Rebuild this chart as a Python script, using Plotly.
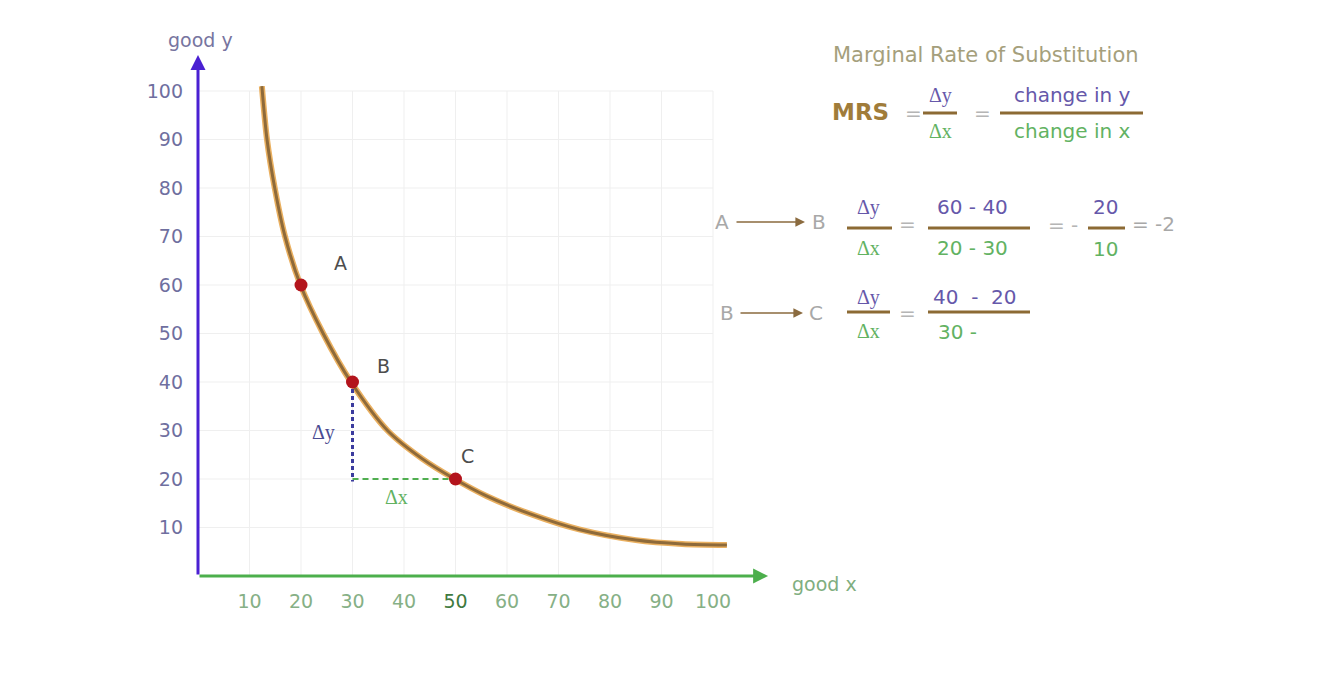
import plotly.graph_objects as go

# ---------------- data ----------------
curve_x = [12.4, 13.4, 14.9, 16.9, 19.9, 24.3, 29.7, 36.8, 43.5, 49.5, 56.0, 64.5, 74.0, 85.0, 94.0, 102.7]
curve_y = [101.0, 90.0, 80.0, 70.0, 60.0, 50.0, 40.0, 30.0, 24.2, 20.2, 16.5, 12.8, 9.6, 7.4, 6.6, 6.4]

point_labels = ["A", "B", "C"]
point_x = [20, 30, 50]
point_y = [60, 40, 20]

tick_vals = [10, 20, 30, 40, 50, 60, 70, 80, 90, 100]
x_tick_text = ["10", "20", "30", "40", "<span style='color:#3f7a3f'>50</span>", "60", "70", "80", "90", "100"]
y_tick_text = ["10", "20", "30", "40", "50", "60", "70", "80", "90", "100"]

delta_x_seg = [30, 50]      # horizontal change B -> C
delta_y_seg = [40, 19.5]    # vertical change B -> C

# ---------------- layout geometry ----------------
W, H = 1332, 698
OFF = 8                        # page body margin
X0S, Y0S = 198, 576            # screen position of the origin
RS, TS = 800, 40               # screen right / top of plot area
ML, MT = X0S - OFF, TS - OFF
MR, MB = W - (RS - OFF), H - (Y0S - OFF)
PW, PH = RS - X0S, Y0S - TS
SX, SY = 5.15, 4.85            # pixels per data unit
XMAX, YMAX = PW / SX, PH / SY

FONT = "DejaVu Sans"
SERIF = "Liberation Serif"
PURPLE = "#6658aa"
GREEN = "#62b262"
GRAY = "#a8a8a8"
BAR = "#8c6a34"


def px(xs):
    return (xs - X0S) / PW


def py(ys):
    return (Y0S - ys) / PH


fig = go.Figure()

# grid lines (limited to the 0..100 square)
shapes = []
for v in tick_vals:
    shapes.append(dict(type="line", xref="x", yref="y", x0=v, x1=v, y0=0, y1=100,
                       line=dict(color="#efefef", width=1), layer="below"))
    shapes.append(dict(type="line", xref="x", yref="y", x0=0, x1=100, y0=v, y1=v,
                       line=dict(color="#efefef", width=1), layer="below"))

# indifference curve (glow + core)
fig.add_trace(go.Scatter(x=curve_x, y=curve_y, mode="lines",
                         line=dict(color="#eab060", width=6, shape="spline", smoothing=0.8),
                         hoverinfo="skip", showlegend=False))
fig.add_trace(go.Scatter(x=curve_x, y=curve_y, mode="lines",
                         line=dict(color="#8e6a3a", width=3, shape="spline", smoothing=0.8),
                         hoverinfo="skip", showlegend=False))

# delta lines
fig.add_trace(go.Scatter(x=[delta_x_seg[0], delta_x_seg[0]], y=delta_y_seg, mode="lines",
                         line=dict(color="#3b3b9e", width=3, dash="4px,3px"), showlegend=False))
fig.add_trace(go.Scatter(x=delta_x_seg, y=[point_y[2], point_y[2]], mode="lines",
                         line=dict(color="#4fae4f", width=2, dash="6px,4px"), showlegend=False))

# points
fig.add_trace(go.Scatter(x=point_x, y=point_y, mode="markers",
                         marker=dict(color="#b3141c", size=13), showlegend=False))

ann = []
# point labels
offs = [(39, 22), (31, 16), (12, 23)]
for lab, xv, yv, (dx, dy) in zip(point_labels, point_x, point_y, offs):
    ann.append(dict(x=xv, y=yv, xref="x", yref="y", text=lab, showarrow=False, xshift=dx, yshift=dy,
                    xanchor="center", yanchor="middle",
                    font=dict(family=FONT, size=19, color="#4d4d4d")))

ann.append(dict(x=24.3, y=29.5, xref="x", yref="y", text="Δy", showarrow=False,
                xanchor="center", yanchor="middle", font=dict(family=SERIF, size=20, color="#4b4b92")))
ann.append(dict(x=38.6, y=16.3, xref="x", yref="y", text="Δx", showarrow=False,
                xanchor="center", yanchor="middle", font=dict(family=SERIF, size=20, color=GREEN)))

# axes arrows
ann.append(dict(x=0, y=107.4, ax=0, ay=0, xref="x", yref="y", axref="x", ayref="y", text="",
                showarrow=True, arrowhead=2, arrowsize=1.0, arrowwidth=3, arrowcolor="#4a20d2"))
ann.append(dict(x=110.7, y=0, ax=0, ay=0, xref="x", yref="y", axref="x", ayref="y", text="",
                showarrow=True, arrowhead=2, arrowsize=1.0, arrowwidth=3, arrowcolor="#4caf4c"))


def txt(xs, ys, s, color, size=20, family=FONT):
    ann.append(dict(x=px(xs), y=py(ys), xref="paper", yref="paper", text=s, showarrow=False,
                    xanchor="center", yanchor="middle", font=dict(family=family, size=size, color=color)))


def bar(x0, x1, ys):
    shapes.append(dict(type="line", xref="paper", yref="paper", x0=px(x0), x1=px(x1), y0=py(ys), y1=py(ys),
                       line=dict(color=BAR, width=3)))


def arrow(x0, x1, ys):
    ann.append(dict(x=px(x1), y=py(ys), ax=-(x1 - x0), ay=0, xref="paper", yref="paper",
                    axref="pixel", ayref="pixel", text="", showarrow=True, arrowhead=2,
                    arrowsize=1.2, arrowwidth=1.6, arrowcolor="#8b6b3f"))


# axis titles
txt(200, 40, "good y", "#77759f", 19)
txt(824, 584, "good x", "#7fae7f", 19)

# formula block
txt(986, 55, "Marginal Rate of Substitution", "#a59f7c", 21)
txt(860, 112, "<b>MRS</b>", "#a07c3a", 23)
txt(913, 113, "=", "#b5b5b5", 20)
txt(940, 95, "Δy", PURPLE, 20, SERIF)
txt(940, 131, "Δx", GREEN, 20, SERIF)
bar(923, 957, 113)
txt(982, 113, "=", "#b5b5b5", 20)
txt(1072, 95, "change in y", PURPLE, 20)
txt(1072, 131, "change in x", GREEN, 20)
bar(1000, 1143, 113)

# A -> B row
txt(722, 222, "A", GRAY, 20)
arrow(735, 805, 222)
txt(819, 222, "B", GRAY, 20)
txt(868, 207, "Δy", PURPLE, 20, SERIF)
txt(868, 248, "Δx", GREEN, 20, SERIF)
bar(847, 892, 228)
txt(907, 224, "=", "#b5b5b5", 20)
txt(972, 207, "60 - 40", PURPLE, 20)
txt(972, 248, "20 - 30", GREEN, 20)
bar(928, 1030, 228)
txt(1063, 225, "= -", "#b5b5b5", 20)
txt(1105, 207, "20", PURPLE, 20)
txt(1105, 249, "10", GREEN, 20)
bar(1088, 1125, 228)
txt(1153, 224, "= -2", GRAY, 20)

# B -> C row
txt(727, 313, "B", GRAY, 20)
arrow(739, 803, 313)
txt(816, 313, "C", GRAY, 20)
txt(868, 297, "Δy", PURPLE, 20, SERIF)
txt(868, 331, "Δx", GREEN, 20, SERIF)
bar(847, 890, 312)
txt(907, 313, "=", "#b5b5b5", 20)
txt(975, 297, "40  -  20", PURPLE, 20)
txt(957, 332, "30 -", GREEN, 20)
bar(928, 1030, 312)

fig.update_layout(
    width=W, height=H,
    margin=dict(l=ML, r=MR, t=MT, b=MB),
    paper_bgcolor="white", plot_bgcolor="white",
    showlegend=False,
    shapes=shapes, annotations=ann,
    xaxis=dict(range=[0, XMAX], tickvals=tick_vals, ticktext=x_tick_text, showgrid=False, zeroline=False,
               showline=False, ticks="", ticklabelstandoff=12,
               tickfont=dict(family=FONT, size=19, color="#86b086")),
    yaxis=dict(range=[0, YMAX], tickvals=tick_vals, ticktext=y_tick_text, showgrid=False, zeroline=False,
               showline=False, ticks="", ticklabelstandoff=14,
               tickfont=dict(family=FONT, size=19, color="#6f6f9f")),
)

fig.write_html("out.html")
